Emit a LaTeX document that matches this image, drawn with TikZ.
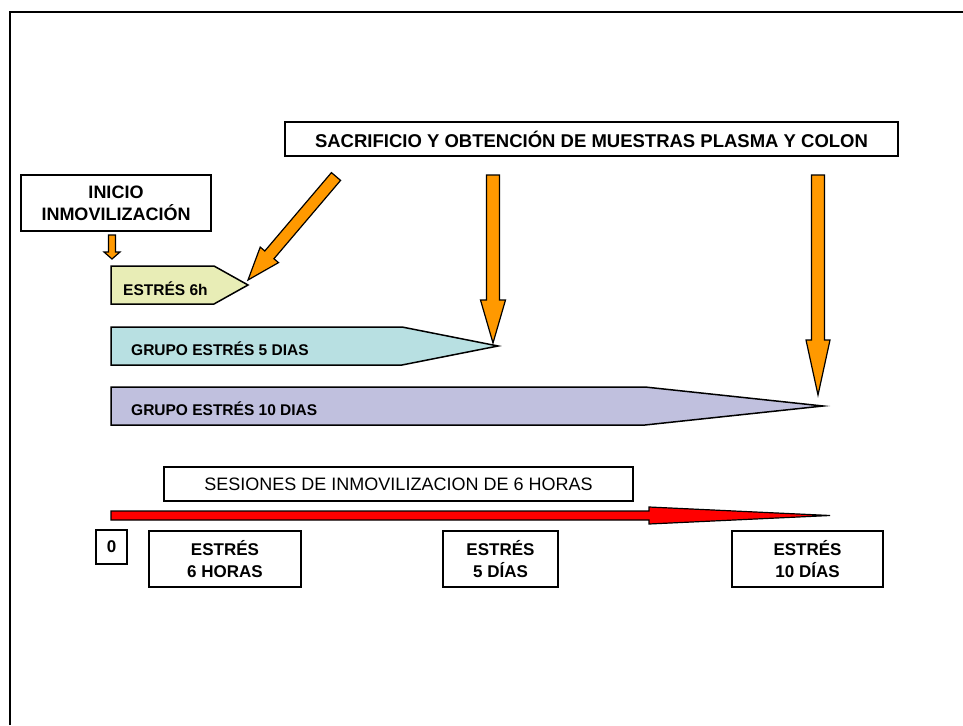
\documentclass[tikz,border=0pt]{standalone}
\usepackage{fontspec}
\setmainfont{Liberation Sans}
\usepackage{tikz}
\usetikzlibrary{calc}

\definecolor{arroworange}{HTML}{FF9900}
\definecolor{timered}{HTML}{FF0000}
\definecolor{fillsix}{RGB}{232,237,182}
\definecolor{fillfive}{RGB}{184,224,226}
\definecolor{fillten}{RGB}{192,192,222}

% block arrow: style, tail, tip, half body width, head length, half head width
\newcommand{\blockarrow}[6]{%
  \coordinate (ba-h) at ($(#3)!#5!(#2)$);
  \draw[#1] ($(#2)!#4!90:(#3)$) -- ($(ba-h)!#4!90:(#3)$) -- ($(ba-h)!#6!90:(#3)$)
    -- (#3) -- ($(ba-h)!#6!-90:(#3)$) -- ($(ba-h)!#4!-90:(#3)$) -- ($(#2)!#4!-90:(#3)$) -- cycle;
}

\begin{document}
\begin{tikzpicture}[x=1pt, y=-1pt]
    % Define styles
    \tikzstyle{labelbox} = [rectangle, draw=black, line width=1.5pt, fill=white, inner sep=0pt, align=center, font=\bfseries\fontsize{17}{22}\selectfont]
    \tikzstyle{stage} = [draw=black, line width=1.5pt]
    \tikzstyle{stagetext} = [anchor=base west, inner sep=0pt, font=\bfseries\fontsize{15.5}{18}\selectfont]
    \tikzstyle{orangearrow} = [draw=black, line width=1.2pt, fill=arroworange, line join=miter]
    \tikzstyle{redarrow} = [draw=black, line width=1.2pt, fill=timered, line join=miter]

    \useasboundingbox (0,0) rectangle (963,725);
    \draw[line width=2pt] (10,725) -- (10,12) -- (963,12);

    % Nodes
    \node[labelbox, minimum width=613pt, minimum height=34pt, font=\bfseries\fontsize{18.5}{22}\selectfont] (sacrificio) at (591.5,139) {SACRIFICIO Y OBTENCIÓN DE MUESTRAS PLASMA Y COLON};
    \node[labelbox, minimum width=190pt, minimum height=56pt, font=\bfseries\fontsize{18}{22}\selectfont] (inicio) at (116,203) {INICIO\\INMOVILIZACIÓN};

    \draw[stage, fill=fillsix] (111,266) -- (214,266) -- (248,285) -- (214,304) -- (111,304) -- cycle;
    \node[stagetext] (estres6h) at (123,295) {ESTRÉS 6h};
    \coordinate (tip6h) at (248,280);

    \draw[stage, fill=fillfive] (111,327) -- (402,327) -- (498,346) -- (402,365) -- (111,365) -- cycle;
    \node[stagetext] (grupo5) at (131,355) {GRUPO ESTRÉS 5 DIAS};
    \coordinate (tip5) at (493,343);

    \draw[stage, fill=fillten] (111,387) -- (645,387) -- (823,406) -- (645,425) -- (111,425) -- cycle;
    \node[stagetext] (grupo10) at (131,415) {GRUPO ESTRÉS 10 DIAS};
    \coordinate (tip10) at (818,395);

    \node[labelbox, minimum width=469pt, minimum height=34pt, font=\mdseries\fontsize{18}{22}\selectfont] (sesiones) at (398.5,484) {SESIONES DE INMOVILIZACION DE 6 HORAS};
    \node[labelbox, minimum width=31pt, minimum height=34pt] (cero) at (111.5,547) {0};
    \node[labelbox, minimum width=152pt, minimum height=56pt] (horas6) at (225,559) {ESTRÉS\\6 HORAS};
    \node[labelbox, minimum width=115pt, minimum height=56pt] (dias5) at (500.5,559) {ESTRÉS\\5 DÍAS};
    \node[labelbox, minimum width=151pt, minimum height=56pt] (dias10) at (807.5,559) {ESTRÉS\\10 DÍAS};

    % Connections
    \coordinate (inicio tail) at (112,235);
    \coordinate (inicio tip) at (112,259);
    \coordinate (diag tail) at (336,176.5);
    \coordinate (tail5) at (493,175);
    \coordinate (tail10) at (818,175);
    \coordinate (time start) at (111,515.5);
    \coordinate (time end) at (830,515.5);

    \blockarrow{orangearrow}{inicio tail}{inicio tip}{3.5pt}{7pt}{8pt}
    \blockarrow{orangearrow}{diag tail}{tip6h}{6pt}{33pt}{12pt}
    \blockarrow{orangearrow}{tail5}{tip5}{6.5pt}{43pt}{12.5pt}
    \blockarrow{orangearrow}{tail10}{tip10}{6.5pt}{55pt}{12pt}
    \blockarrow{redarrow}{time start}{time end}{4.5pt}{181pt}{8.5pt}
\end{tikzpicture}
\end{document}
